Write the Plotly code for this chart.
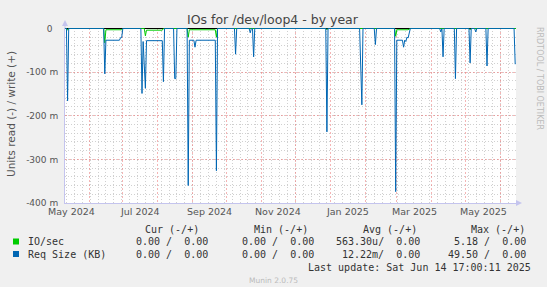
import plotly.graph_objects as go

# ---- data (read side, values in units; axis shows milli) ----
req_dates = ["2024-05-10 17:00", "2024-05-12", "2024-05-13", "2024-05-14",
             "2024-06-14", "2024-06-15", "2024-06-16", "2024-06-28", "2024-06-29", "2024-06-30", "2024-07-01",
             "2024-07-17", "2024-07-18", "2024-07-19", "2024-07-21", "2024-07-22", "2024-08-05", "2024-08-06", "2024-08-07",
             "2024-08-15", "2024-08-16", "2024-08-17", "2024-08-18",
             "2024-08-27", "2024-08-28", "2024-08-29", "2024-09-02", "2024-09-03", "2024-09-04", "2024-09-21", "2024-09-22", "2024-09-23",
             "2024-10-08", "2024-10-09", "2024-10-10",
             "2024-10-21", "2024-10-22", "2024-10-23", "2024-10-24", "2024-10-25", "2024-10-26",
             "2024-12-28", "2024-12-29", "2024-12-30",
             "2025-01-27", "2025-01-28", "2025-01-29", "2025-01-30",
             "2025-02-09", "2025-02-10", "2025-02-11",
             "2025-02-27", "2025-02-28", "2025-03-01", "2025-03-06", "2025-03-07", "2025-03-08", "2025-03-09",
             "2025-03-10", "2025-03-11", "2025-03-12", "2025-03-13",
             "2025-04-08", "2025-04-09", "2025-04-10", "2025-04-11", "2025-04-12",
             "2025-04-21", "2025-04-22", "2025-04-23",
             "2025-05-04", "2025-05-05", "2025-05-06",
             "2025-05-09", "2025-05-10", "2025-05-11",
             "2025-05-19", "2025-05-20", "2025-05-21",
             "2025-06-13", "2025-06-14"]
req_vals = [0, 0, -0.166, 0,
            0, -0.104, -0.027, -0.027, -0.021, -0.021, 0,
            0, -0.149, -0.030, -0.137, -0.028, -0.028, -0.122, 0,
            0, -0.115, -0.115, 0,
            0, -0.360, -0.027, -0.027, -0.043, -0.027, -0.027, -0.326, 0,
            0, -0.059, 0,
            0, -0.010, 0, 0, -0.065, 0,
            0, -0.237, 0,
            0, -0.120, -0.175, 0,
            0, -0.037, 0,
            0, -0.374, -0.027, -0.027, -0.043, -0.027, -0.030,
            -0.020, -0.022, -0.012, 0,
            0, -0.008, 0, -0.065, 0,
            0, -0.115, 0,
            0, -0.079, 0,
            0, -0.008, 0,
            0, -0.086, 0,
            0, -0.082]

io_dates = ["2024-05-10 17:00", "2024-05-12", "2024-05-13", "2024-05-14",
            "2024-06-14", "2024-06-15", "2024-06-16", "2024-06-30", "2024-07-01",
            "2024-07-20", "2024-07-21", "2024-07-22", "2024-08-05", "2024-08-06",
            "2024-08-27", "2024-08-28", "2024-08-29", "2024-09-21", "2024-09-22", "2024-09-23",
            "2024-12-28", "2024-12-29", "2024-12-30",
            "2025-02-27", "2025-02-28", "2025-03-01", "2025-03-11", "2025-03-13",
            "2025-05-04", "2025-05-05", "2025-05-06", "2025-06-14 17:00"]
io_vals = [0, 0, -0.004, 0,
           0, -0.033, -0.003, -0.003, 0,
           0, -0.017, -0.004, -0.004, 0,
           0, -0.020, -0.003, -0.003, -0.020, 0,
           0, -0.003, 0,
           0, -0.018, -0.003, -0.003, 0,
           0, -0.003, 0, 0]

x_range = ["2024-05-10 17:00", "2025-06-14 17:00"]
month_starts = ["2024-06-01", "2024-07-01", "2024-08-01", "2024-09-01", "2024-10-01", "2024-11-01",
                "2024-12-01", "2025-01-01", "2025-02-01", "2025-03-01", "2025-04-01", "2025-05-01",
                "2025-06-01"]
x_label_dates = ["2024-05-16 12:00", "2024-07-16 12:00", "2024-09-16", "2024-11-16",
                 "2025-01-16 12:00", "2025-03-16 12:00", "2025-05-16 12:00"]
x_labels = ["May 2024", "Jul 2024", "Sep 2024", "Nov 2024", "Jan 2025", "Mar 2025", "May 2025"]
y_tickvals = [0, -0.1, -0.2, -0.3, -0.4]
y_ticktext = ["0\u00a0\u00a0", "-100 m", "-200 m", "-300 m", "-400 m"]

legend_names = ["IO/sec", "Req Size (KB)"]
legend_colors = ["#00CC00", "#0066B3"]
cur_col = ["0.00 /  0.00", "0.00 /  0.00"]
min_col = ["0.00 /  0.00", "0.00 /  0.00"]
avg_col = ["563.30u/  0.00", "12.22m/  0.00"]
max_col = ["5.18 /  0.00", "49.50 /  0.00"]

W, H = 547, 287
L, R, T, B = 65, 31, 28, 84
PW, PH = W - L - R, H - T - B

def px(xp):
    return (xp - L) / PW

def py(yp):
    return (T + PH - yp) / PH

fig = go.Figure()
fig.add_trace(go.Scatter(x=io_dates, y=io_vals, mode="lines",
                         line=dict(color=legend_colors[0], width=1), showlegend=False))
fig.add_trace(go.Scatter(x=req_dates, y=req_vals, mode="lines",
                         line=dict(color=legend_colors[1], width=1), showlegend=False))

grid_major = "rgba(235,120,120,0.55)"
grid_minor = "rgba(200,200,200,0.85)"
axis_col = "#c4c4ee"

fig.update_layout(
    width=W, height=H, autosize=False,
    margin=dict(l=L, r=R, t=T, b=B),
    paper_bgcolor="#F0F0F0", plot_bgcolor="#FFFFFF",
    font=dict(family="DejaVu Sans", size=9, color="#555555"),
    xaxis=dict(type="date", range=x_range, tickmode="array", tickvals=month_starts,
               showticklabels=False, ticks="", showgrid=True, gridcolor=grid_major,
               griddash="2px,2px", gridwidth=1, zeroline=False,
               showline=True, linecolor=axis_col, linewidth=1,
               minor=dict(dtick=7 * 86400000, tick0="2024-05-12", showgrid=True,
                          gridcolor=grid_minor, griddash="1px,2px", gridwidth=1, ticks="")),
    yaxis=dict(range=[-0.4, 0.001], tickvals=y_tickvals, ticktext=y_ticktext,
               showgrid=True, gridcolor=grid_major, griddash="2px,2px", gridwidth=1,
               zeroline=True, zerolinecolor="#000000", zerolinewidth=1,
               showline=True, linecolor=axis_col, linewidth=1,
               ticks="", ticklabelstandoff=4,
               tickfont=dict(size=9, color="#555555"),
               minor=dict(dtick=0.02, showgrid=True, gridcolor=grid_minor,
                          griddash="1px,2px", gridwidth=1, ticks="")),
)

# axis arrows
fig.add_shape(type="path", xref="paper", yref="paper",
              path=f"M {px(62)} {py(26)} L {px(68)} {py(26)} L {px(65)} {py(20)} Z",
              fillcolor=axis_col, line=dict(width=0))
fig.add_shape(type="path", xref="paper", yref="paper",
              path=f"M {px(516)} {py(200)} L {px(516)} {py(206)} L {px(522)} {py(203)} Z",
              fillcolor=axis_col, line=dict(width=0))
fig.add_shape(type="line", xref="paper", yref="paper", x0=0, x1=0, y0=1, y1=py(24),
              line=dict(color=axis_col, width=1))

ann = []
# x tick labels (centered mid-month like rrdtool)
for d, t in zip(x_label_dates, x_labels):
    ann.append(dict(x=d, y=0, xref="x", yref="paper", text=t, showarrow=False,
                    xanchor="center", yanchor="top", yshift=-1,
                    font=dict(family="DejaVu Sans", size=9.5, color="#555555")))

def txt(xp, yp, s, anchor="left", font=None, angle=0):
    ann.append(dict(x=px(xp), y=py(yp), xref="paper", yref="paper", text=s, showarrow=False,
                    xanchor=anchor, yanchor="middle", textangle=angle, font=font))

txt(273, 19.5, "IOs for /dev/loop4 - by year", "center",
    dict(family="DejaVu Sans", size=12.5, color="#444444"))
txt(11, 114, "Units read (-) / write (+)", "center",
    dict(family="DejaVu Sans", size=10.5, color="#555555"), -90)
txt(540, 78, "RRDTOOL / TOBI OETIKER", "center",
    dict(family="DejaVu Sans", size=8, color="#BBBBBB"), 90)

mono = dict(family="DejaVu Sans Mono", size=10, color="#333333")

# legend header
txt(200.5, 229, "Cur (-/+)", "right", mono)
txt(309.5, 229, "Min (-/+)", "right", mono)
txt(418.5, 229, "Avg (-/+)", "right", mono)
txt(527, 229, "Max (-/+)", "right", mono)
rows_y = [241.5, 254]
for i in range(2):
    y = rows_y[i]
    fig.add_shape(type="rect", xref="paper", yref="paper",
                  x0=px(13), x1=px(19), y0=py(y + 3), y1=py(y - 3),
                  fillcolor=legend_colors[i], line=dict(width=0))
    txt(25.5, y, legend_names[i], "left", mono)
    txt(209.5, y, cur_col[i], "right", mono)
    txt(315.5, y, min_col[i], "right", mono)
    txt(421.5, y, avg_col[i], "right", mono)
    txt(527.5, y, max_col[i], "right", mono)
txt(533, 267, "Last update: Sat Jun 14 17:00:11 2025", "right", mono)
txt(273, 280, "Munin 2.0.75", "center", dict(family="DejaVu Sans", size=7.5, color="#BBBBBB"))

fig.update_layout(annotations=ann)
fig.write_html("out.html")
